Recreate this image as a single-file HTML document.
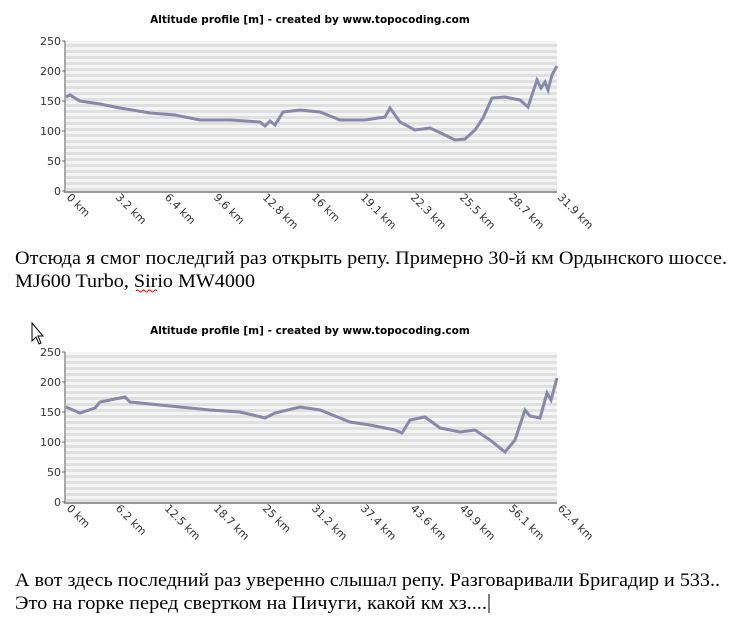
<!DOCTYPE html>
<html><head><meta charset="utf-8"><style>
body{margin:0;background:#fff;width:743px;height:640px;overflow:hidden}
svg{position:absolute;left:0;top:0}
.t{font-family:"Liberation Serif",serif;font-size:19px;fill:#000}
.ti{font-family:"DejaVu Sans",sans-serif;font-size:10.5px;font-weight:bold;fill:#000}
.ax{font-family:"DejaVu Sans",sans-serif;font-size:11px;fill:#333}
</style></head><body>
<svg width="743" height="640" viewBox="0 0 743 640">
<defs>
<pattern id="st" x="0" y="41" width="10" height="6" patternUnits="userSpaceOnUse">
<rect width="10" height="6" fill="#f4f4f4"/><rect y="3" width="10" height="3" fill="#e0e0e0"/>
</pattern>
<g id="axes">
<rect x="66" y="41" width="491" height="150" fill="url(#st)"/>
<line x1="65" y1="41" x2="65" y2="192" stroke="#aaa" stroke-width="2"/>
<line x1="64" y1="192" x2="557" y2="192" stroke="#999" stroke-width="2"/>
<g class="ax" text-anchor="end">
<text x="61" y="45">250</text><text x="61" y="75">200</text><text x="61" y="105">150</text>
<text x="61" y="135">100</text><text x="61" y="165">50</text><text x="61" y="195">0</text>
</g>
<g stroke="#666"><line x1="62" y1="41" x2="65" y2="41"/><line x1="62" y1="71" x2="65" y2="71"/><line x1="62" y1="101" x2="65" y2="101"/><line x1="62" y1="131" x2="65" y2="131"/><line x1="62" y1="161" x2="65" y2="161"/><line x1="62" y1="191" x2="65" y2="191"/></g>
</g>
</defs>
<text class="ti" x="310" y="23" text-anchor="middle">Altitude profile [m] - created by www.topocoding.com</text>
<use href="#axes"/>
<polyline fill="none" stroke="#8888aa" stroke-width="3" points="66,97 70,95 80,101 100,104 120,108 150,113 175,115 200,120 230,120 260,122 265,126 270,121 275,125 283,112 300,110 320,112 340,120 365,120 385,117 390,108 400,122 415,130 430,128 445,135 455,140 465,139 475,130 483,118 492,98 505,97 520,100 528,107 537,80 541,88 545,82 548,90 552,75 557,66"/>
<g class="ax">
<text transform="translate(66,198) rotate(45)">0 km</text>
<text transform="translate(115,198) rotate(45)">3.2 km</text>
<text transform="translate(164,198) rotate(45)">6.4 km</text>
<text transform="translate(213,198) rotate(45)">9.6 km</text>
<text transform="translate(262,198) rotate(45)">12.8 km</text>
<text transform="translate(311,198) rotate(45)">16 km</text>
<text transform="translate(360,198) rotate(45)">19.1 km</text>
<text transform="translate(410,198) rotate(45)">22.3 km</text>
<text transform="translate(459,198) rotate(45)">25.5 km</text>
<text transform="translate(508,198) rotate(45)">28.7 km</text>
<text transform="translate(557,198) rotate(45)">31.9 km</text>
</g>
<text class="t" x="15" y="264" textLength="712" lengthAdjust="spacingAndGlyphs">Отсюда я смог последгий раз открыть репу. Примерно 30-й км Ордынского шоссе.</text>
<text class="t" x="15" y="287" textLength="240" lengthAdjust="spacingAndGlyphs">MJ600 Turbo, Sirio MW4000</text>
<path d="M136 291 q1.5 -2 3 0 t3 0 t3 0 t3 0 t3 0 t3 0 t3 0" fill="none" stroke="#d00" stroke-width="1"/>
<path d="M32 323 L32 341 L36 337 L39 344 L41 343 L38 336 L43 336 Z" fill="#fff" stroke="#000" stroke-width="1"/>

<g transform="translate(0,311)">
<text class="ti" x="310" y="23" text-anchor="middle">Altitude profile [m] - created by www.topocoding.com</text>
<use href="#axes"/>
<polyline fill="none" stroke="#8888aa" stroke-width="3" points="66,96 80,102 95,97 100,91 120,87 125,86 130,91 170,95 210,99 240,101 265,107 275,102 300,96 320,99 335,105 350,111 370,114 395,119 402,122 410,109 425,106 440,117 460,121 475,119 490,129 505,141 515,129 525,99 530,105 540,107 547,82 551,89 557,67"/>
<g class="ax">
<text transform="translate(66,198) rotate(45)">0 km</text>
<text transform="translate(115,198) rotate(45)">6.2 km</text>
<text transform="translate(164,198) rotate(45)">12.5 km</text>
<text transform="translate(213,198) rotate(45)">18.7 km</text>
<text transform="translate(262,198) rotate(45)">25 km</text>
<text transform="translate(311,198) rotate(45)">31.2 km</text>
<text transform="translate(360,198) rotate(45)">37.4 km</text>
<text transform="translate(410,198) rotate(45)">43.6 km</text>
<text transform="translate(459,198) rotate(45)">49.9 km</text>
<text transform="translate(508,198) rotate(45)">56.1 km</text>
<text transform="translate(557,198) rotate(45)">62.4 km</text>
</g>
</g>
<text class="t" x="15" y="586" textLength="705" lengthAdjust="spacingAndGlyphs">А вот здесь последний раз уверенно слышал репу. Разговаривали Бригадир и 533..</text>
<text class="t" x="15" y="609" textLength="472" lengthAdjust="spacingAndGlyphs">Это на горке перед свертком на Пичуги, какой  км хз....</text>
<line x1="489" y1="594" x2="489" y2="613" stroke="#000" stroke-width="1"/>
</svg>
</body></html>
